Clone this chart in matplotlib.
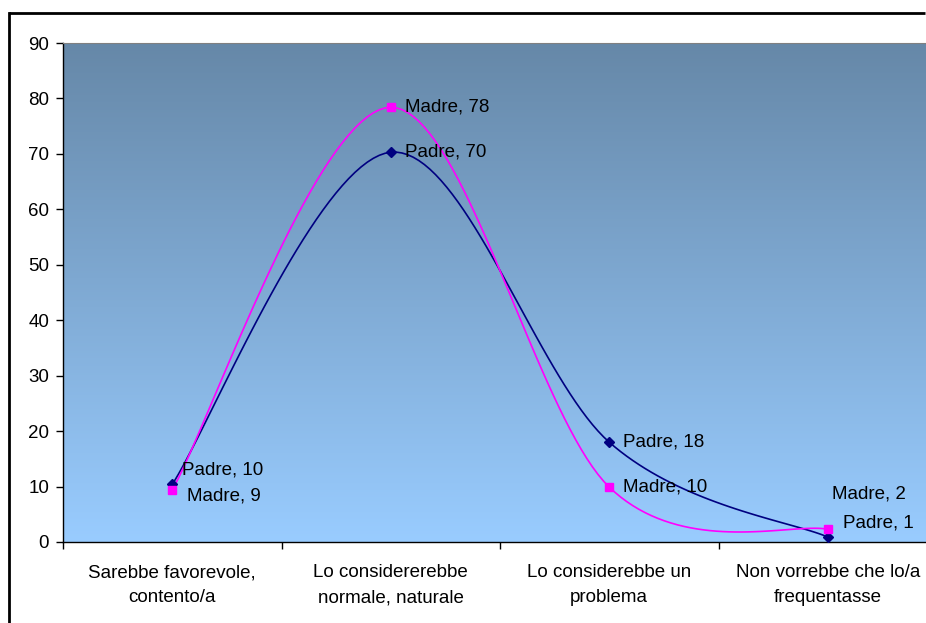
import numpy as np
import matplotlib.pyplot as plt
from matplotlib.lines import Line2D

plt.rcParams['font.family'] = ['Liberation Sans', 'DejaVu Sans']

# Data
categories = ["Sarebbe favorevole,\ncontento/a", "Lo considererebbe\nnormale, naturale",
              "Lo considerebbe un\nproblema", "Non vorrebbe che lo/a\nfrequentasse"]
padre = [10.4, 70.3, 18.0, 0.9]
madre = [9.4, 78.4, 9.9, 2.3]


def smooth(vals, n=40):
    # Excel-style smoothed line: cubic Bezier with Catmull-Rom control points
    x = np.arange(len(vals), dtype=float)
    y = np.asarray(vals, dtype=float)
    px = np.concatenate([[x[0]], x, [x[-1]]])
    py = np.concatenate([[y[0]], y, [y[-1]]])
    xs, ys = [], []
    t = np.linspace(0, 1, n)
    for i in range(len(vals) - 1):
        p0 = np.array([px[i], py[i]])
        p1 = np.array([px[i + 1], py[i + 1]])
        p2 = np.array([px[i + 2], py[i + 2]])
        p3 = np.array([px[i + 3], py[i + 3]])
        c1 = p1 + (p2 - p0) / 6
        c2 = p2 - (p3 - p1) / 6
        pts = (np.outer((1 - t) ** 3, p1) + np.outer(3 * (1 - t) ** 2 * t, c1)
               + np.outer(3 * (1 - t) * t ** 2, c2) + np.outer(t ** 3, p2))
        xs.extend(pts[:, 0])
        ys.extend(pts[:, 1])
    return np.array(xs), np.array(ys)


fig = plt.figure(figsize=(9.26, 6.23), dpi=100)
ax = fig.add_axes([63 / 926, 1 - 542 / 623, 874 / 926, 499 / 623])

# gradient background
top = np.array([0x66, 0x88, 0xA8]) / 255
bottom = np.array([0x99, 0xCC, 0xFF]) / 255
k = np.linspace(0, 1, 256)[:, None]
grad = (top * (1 - k) + bottom * k)[:, None, :]
ax.imshow(grad, extent=[-0.5, 3.5, 0, 90], aspect='auto', zorder=0)

x = np.arange(len(categories))
sx, sy = smooth(padre)
ax.plot(sx, sy, color='#000080', lw=1.2, zorder=3)
ax.plot(x, padre, ls='none', marker='D', ms=5.5, color='#000080', zorder=4)
sx, sy = smooth(madre)
ax.plot(sx, sy, color='#FF00FF', lw=1.2, zorder=3)
ax.plot(x, madre, ls='none', marker='s', ms=6, color='#FF00FF', zorder=4)

# data labels (offsets in pixels)
offsets_padre = [(10, 14), (14, 0), (14, 0), (15, 14)]
offsets_madre = [(15, -6), (14, 0), (14, 0), (4, 35)]
for i in range(len(categories)):
    ax.annotate(f"Padre, {round(padre[i])}", (x[i], padre[i]), xytext=offsets_padre[i],
                textcoords='offset pixels', va='center', ha='left', fontsize=13.5, zorder=5)
    ax.annotate(f"Madre, {round(madre[i])}", (x[i], madre[i]), xytext=offsets_madre[i],
                textcoords='offset pixels', va='center', ha='left', fontsize=13.5, zorder=5)

ax.set_xlim(-0.5, 3.5)
ax.set_ylim(0, 90)
ax.set_yticks(range(0, 91, 10))
ax.set_xticks(x)
ax.set_xticklabels(categories, fontsize=13.5, linespacing=1.6)
ax.set_xticks(np.arange(-0.5, 4, 1), minor=True)
ax.tick_params(axis='x', which='major', length=0, pad=16)
ax.tick_params(axis='x', which='minor', length=5, direction='out', width=1)
ax.tick_params(axis='y', length=5, direction='out', width=1, labelsize=13.5, pad=5)

ax.spines['top'].set_color('#808080')
ax.spines['right'].set_visible(False)
for s in ['left', 'bottom']:
    ax.spines[s].set_linewidth(1)

# outer chart border: left edge and top edge only (the frame runs off the picture)
bx, by = 8.5 / 926, 1 - 12.5 / 623
fig.add_artist(Line2D([bx, bx], [0.0, by], transform=fig.transFigure,
                      color='black', lw=2, solid_capstyle='projecting'))
fig.add_artist(Line2D([bx, 0.999], [by, by], transform=fig.transFigure,
                      color='black', lw=2, solid_capstyle='butt'))

fig.savefig('out.png', dpi=100)
